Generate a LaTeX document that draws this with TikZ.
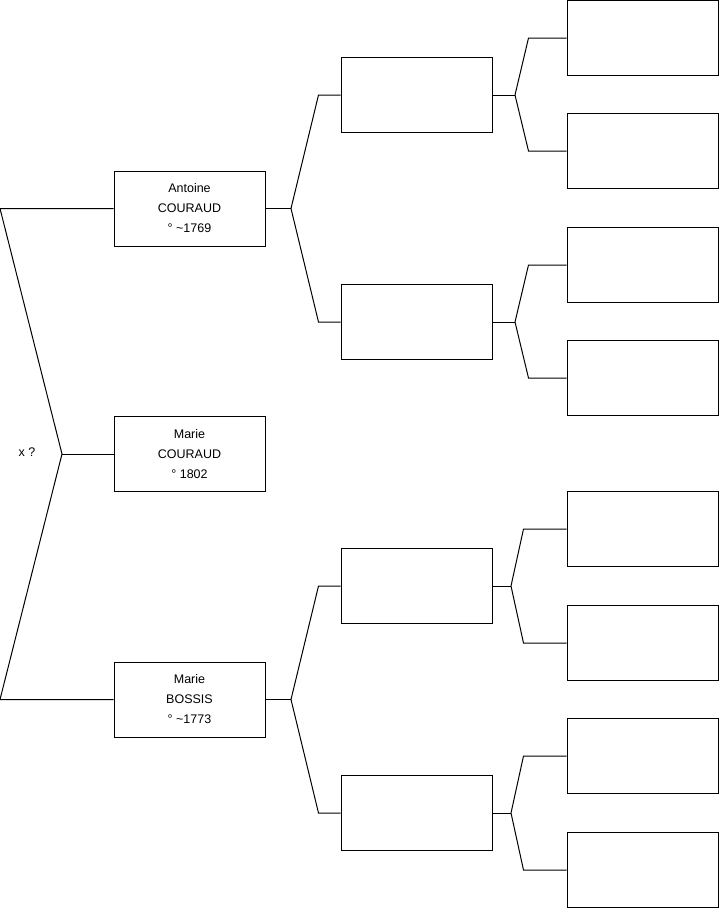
\documentclass[tikz,border=0pt]{standalone}
\usepackage{fontspec}
\setmainfont{Liberation Sans}
\tikzset{
  person/.style={draw, line width=1pt, minimum width=151pt, minimum height=75pt,
    inner sep=0pt, align=center, font=\fontsize{12.5}{20}\selectfont},
  link/.style={line width=1pt},
}
\begin{document}
\begin{tikzpicture}[x=1pt,y=-1pt]
        \useasboundingbox (0,0) rectangle (719,908);
        % first generation
        \node[person] (P1) at (189.5,454) {Marie\\COURAUD\\° 1802};
        \node[font=\fontsize{12.5}{20}\selectfont] (wed) at (27,452) {x ?};
        % parents
        \node[person] (P2) at (189.5,208.5) {Antoine\\COURAUD\\° \textasciitilde1769};
        \node[person] (P3) at (189.5,699.5) {Marie\\BOSSIS\\° \textasciitilde1773};
        % grand-parents
        \node[person] (P4) at (416.5,95) {};
        \node[person] (P5) at (416.5,322) {};
        \node[person] (P6) at (416.5,586) {};
        \node[person] (P7) at (416.5,813) {};
        % great-grand-parents
        \node[person] (P8) at (642.5,38) {};
        \node[person] (P9) at (642.5,151) {};
        \node[person] (P10) at (642.5,265) {};
        \node[person] (P11) at (642.5,378) {};
        \node[person] (P12) at (642.5,529) {};
        \node[person] (P13) at (642.5,643) {};
        \node[person] (P14) at (642.5,756) {};
        \node[person] (P15) at (642.5,870) {};
        % joints
        \coordinate (top) at (0,208.5);
        \coordinate (bot) at (0,699.5);
        \coordinate (j1) at (62,454);
        \coordinate (j2) at (291,208.5);
        \coordinate (j3) at (291,699.5);
        \coordinate (j4) at (515,95);
        \coordinate (j5) at (515,322);
        \coordinate (j6) at (511,586);
        \coordinate (j7) at (511,813);
        \draw[link] (P2.west) -- (top) -- (j1) -- (bot) -- (P3.west);
        \draw[link] (j1) -- (P1.west);
        \draw[link] (P2.east) -- (j2);
        \draw[link] (j2) -- ([xshift=-22pt]P4.west) -- (P4.west);
        \draw[link] (j2) -- ([xshift=-22pt]P5.west) -- (P5.west);
        \draw[link] (P3.east) -- (j3);
        \draw[link] (j3) -- ([xshift=-22pt]P6.west) -- (P6.west);
        \draw[link] (j3) -- ([xshift=-22pt]P7.west) -- (P7.west);
        \draw[link] (P4.east) -- (j4);
        \draw[link] (j4) -- ([xshift=-38pt]P8.west) -- (P8.west);
        \draw[link] (j4) -- ([xshift=-38pt]P9.west) -- (P9.west);
        \draw[link] (P5.east) -- (j5);
        \draw[link] (j5) -- ([xshift=-38pt]P10.west) -- (P10.west);
        \draw[link] (j5) -- ([xshift=-38pt]P11.west) -- (P11.west);
        \draw[link] (P6.east) -- (j6);
        \draw[link] (j6) -- ([xshift=-43pt]P12.west) -- (P12.west);
        \draw[link] (j6) -- ([xshift=-43pt]P13.west) -- (P13.west);
        \draw[link] (P7.east) -- (j7);
        \draw[link] (j7) -- ([xshift=-43pt]P14.west) -- (P14.west);
        \draw[link] (j7) -- ([xshift=-43pt]P15.west) -- (P15.west);
\end{tikzpicture}
\end{document}
